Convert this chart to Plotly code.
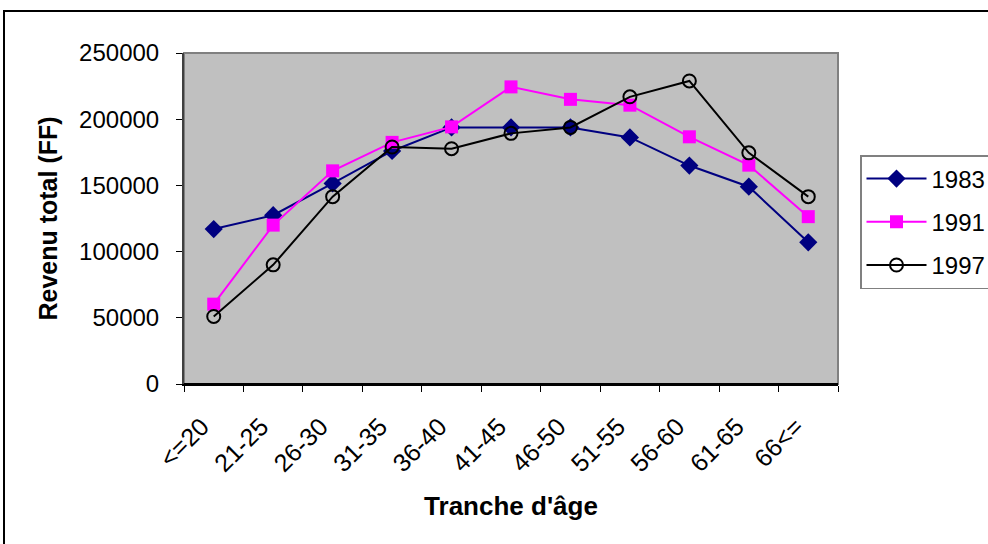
import plotly.graph_objects as go

categories = ["<=20", "21-25", "26-30", "31-35", "36-40", "41-45", "46-50", "51-55", "56-60", "61-65", "66<="]
rev_1983 = [117000, 127500, 151500, 176000, 193800, 193800, 193800, 186200, 165000, 149000, 107000]
rev_1991 = [60300, 120000, 161000, 182500, 194200, 224400, 215000, 210600, 186700, 165300, 126400]
rev_1997 = [51000, 90000, 141500, 179000, 177700, 189300, 193800, 216900, 228900, 174600, 141500]
y_ticks = [0, 50000, 100000, 150000, 200000, 250000]

W, H = 988, 544
L, R, T, B = 184, 150, 53, 160
pw, ph = W - L - R, H - T - B

def px(x):
    return (x - L) / pw

def py(y):
    return (H - B - y) / ph

fig = go.Figure()
fig.add_trace(go.Scatter(
    x=categories, y=rev_1983, name="1983", mode="lines+markers",
    line=dict(color="#000080", width=2),
    marker=dict(symbol="diamond", size=14, color="#000080"),
    legendgroup="a"))
fig.add_trace(go.Scatter(
    x=categories, y=rev_1991, name="1991", mode="lines+markers",
    line=dict(color="#FF00FF", width=2),
    marker=dict(symbol="square", size=13, color="#FF00FF"),
    legendgroup="b"))
fig.add_trace(go.Scatter(
    x=categories, y=rev_1997, name="1997", mode="lines+markers",
    line=dict(color="#000000", width=2),
    marker=dict(symbol="circle-open", size=13, color="#000000", line=dict(width=2)),
    legendgroup="c"))

fig.update_layout(
    width=W, height=H,
    margin=dict(l=L, r=R, t=T, b=B, autoexpand=False),
    paper_bgcolor="white",
    plot_bgcolor="#C0C0C0",
    font=dict(family="Liberation Sans, Arial, sans-serif", size=23, color="black"),
    xaxis=dict(
        type="category", tickangle=-45, tickson="boundaries",
        ticks="outside", ticklen=6, tickcolor="black",
        showgrid=False, showline=True, linecolor="black", linewidth=2,
        mirror=False, zeroline=False,
        title=dict(text="<b>Tranche d'âge</b>", font=dict(size=26), standoff=21),
        tickfont=dict(size=25),
        ticklabelshift=-12, ticklabelstandoff=16,
        range=[-0.5, 10.5],
    ),
    yaxis=dict(
        range=[0, 250000], tickvals=y_ticks, tickformat="d", ticks="outside", ticklen=6,
        tickcolor="black", showgrid=False, showline=True, linecolor="#404040",
        linewidth=2, zeroline=False,
        title=dict(text="<b>Revenu total (FF)</b>", font=dict(size=25), standoff=14),
        tickfont=dict(size=24),
        ticklabelstandoff=12,
    ),
    legend=dict(
        x=px(860), y=py(155), xanchor="left", yanchor="top",
        bordercolor="#808080", borderwidth=1.5, bgcolor="white",
        font=dict(size=24), tracegroupgap=9, itemwidth=60,
    ),
    shapes=[
        dict(type="rect", xref="paper", yref="paper", x0=0, x1=1, y0=0, y1=1,
             line=dict(color="#808080", width=2), layer="below"),
        dict(type="line", xref="paper", yref="paper", x0=0, x1=1, y0=0, y1=0,
             line=dict(color="black", width=2)),
        dict(type="rect", xref="paper", yref="paper",
             x0=px(4), x1=px(995), y0=py(552), y1=py(11),
             line=dict(color="black", width=2)),
    ],
)

fig.write_html("out.html")
